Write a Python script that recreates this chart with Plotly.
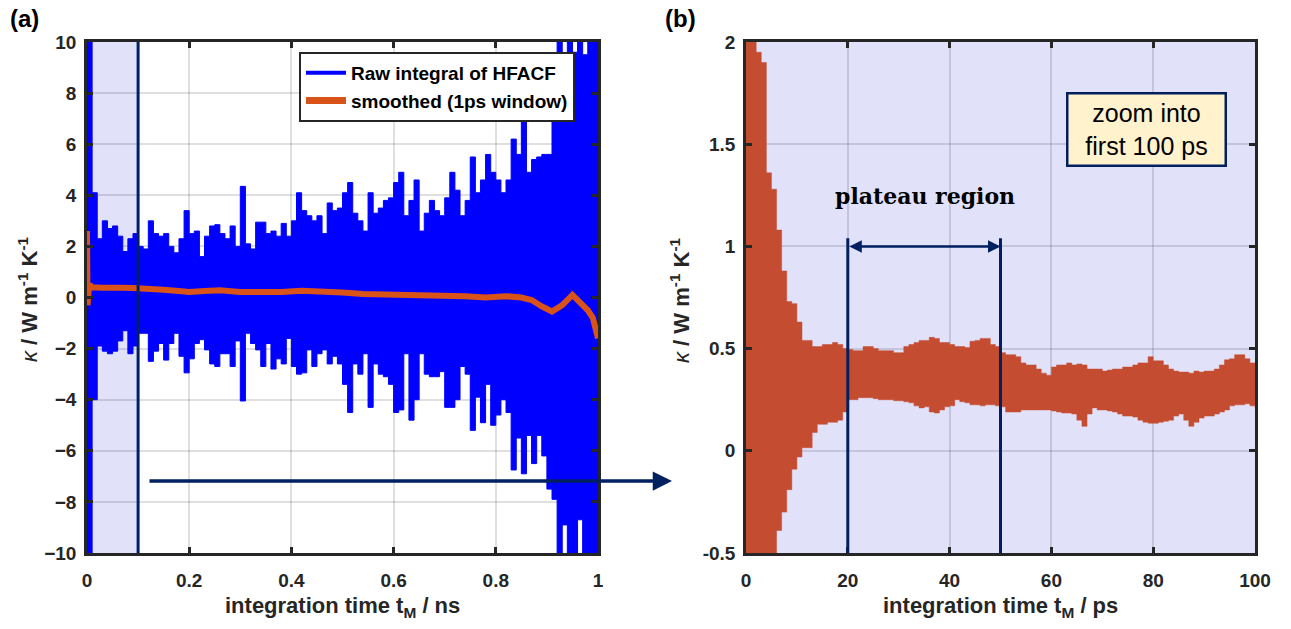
import numpy as np
import plotly.graph_objects as go

# ---------------- data: panel (a) ----------------
t_ns = [round(i * 0.01, 2) for i in range(101)]
raw_hi = [10, 4.1, 2.3, 3.0, 2.7, 2.8, 2.4, 1.8, 2.3, 2.5,
          2.0, 1.9, 3.0, 2.5, 2.4, 2.5, 2.0, 1.75, 2.3, 3.4,
          2.5, 2.6, 1.6, 2.4, 2.8, 2.85, 2.5, 2.3, 2.8, 2.0,
          4.35, 2.1, 1.9, 2.95, 2.95, 2.5, 2.6, 2.4, 2.9, 2.4,
          3.0, 4.1, 3.4, 3.2, 3.0, 3.2, 2.5, 3.7, 3.4, 3.5,
          4.1, 4.5, 3.3, 3.0, 2.6, 4.1, 3.3, 3.5, 3.8, 3.9,
          4.5, 4.9, 3.2, 3.8, 4.6, 2.6, 3.3, 3.8, 3.4, 3.2,
          3.9, 4.9, 4.2, 3.2, 3.8, 5.5, 4.1, 4.6, 5.6, 4.9,
          4.6, 4.1, 4.6, 6.2, 5.6, 7.5, 4.9, 5.4, 5.5, 5.6,
          5.6, 7.1, 10, 8.8, 10, 9.6, 10, 9.5, 10, 10, 10]
raw_lo = [-10, -4.0, -1.9, -2.1, -2.2, -2.1, -1.7, -1.3, -2.2, -1.9,
          -1.4, -1.4, -2.5, -2.1, -1.8, -2.45, -1.8, -1.4, -2.3, -2.95,
          -2.4, -1.8, -1.65, -2.05, -2.6, -2.7, -2.2, -2.2, -2.7, -1.7,
          -4.05, -1.4, -1.8, -2.05, -2.7, -1.8, -2.8, -2.4, -2.6, -1.6,
          -2.7, -3.0, -2.95, -2.05, -2.7, -2.2, -2.05, -2.6, -2.3, -2.6,
          -3.4, -4.5, -2.6, -3.0, -2.2, -4.3, -2.6, -3.0, -3.1, -3.4,
          -4.5, -4.4, -2.2, -4.8, -4.0, -2.2, -3.0, -3.1, -3.1, -2.9,
          -4.3, -4.3, -4.0, -2.7, -3.0, -5.2, -3.9, -4.9, -3.4, -5.0,
          -4.6, -4.0, -4.5, -6.75, -5.5, -6.9, -5.4, -6.5, -5.4, -6.2,
          -7.5, -7.9, -10, -8.9, -10, -10, -8.7, -10, -10, -10, -10]

smooth_t = [0, 0.001, 0.002, 0.003, 0.005, 0.01, 0.03, 0.05, 0.07, 0.09, 0.1,
            0.12, 0.15, 0.18, 0.2, 0.23, 0.26, 0.3, 0.34, 0.38, 0.42, 0.46,
            0.5, 0.54, 0.58, 0.62, 0.66, 0.7, 0.74, 0.78, 0.82, 0.85, 0.87,
            0.89, 0.91, 0.93, 0.95, 0.97, 0.98, 0.99, 1.0]
smooth_k = [2.6, -0.3, 1.2, 0.2, 0.5, 0.4, 0.38, 0.4, 0.38, 0.37, 0.35,
            0.34, 0.3, 0.25, 0.22, 0.25, 0.28, 0.22, 0.2, 0.22, 0.26, 0.24,
            0.2, 0.14, 0.12, 0.15, 0.1, 0.08, 0.05, 0.0, 0.05, 0.0, -0.1,
            -0.35, -0.55, -0.3, 0.1, -0.3, -0.5, -0.8, -1.6]

# ---------------- data: panel (b) ----------------
t_ps = list(range(101))
zoom_hi = [2.0, 2.0, 1.95, 1.9, 1.36, 1.28, 1.08, 0.88, 0.73, 0.72,
           0.63, 0.54, 0.54, 0.51, 0.51, 0.52, 0.52, 0.53, 0.52, 0.50,
           0.495, 0.49, 0.49, 0.51, 0.51, 0.50, 0.49, 0.49, 0.49, 0.48,
           0.48, 0.51, 0.52, 0.53, 0.54, 0.54, 0.555, 0.55, 0.53, 0.53,
           0.52, 0.51, 0.51, 0.505, 0.536, 0.54, 0.55, 0.55, 0.52, 0.51,
           0.48, 0.47, 0.47, 0.46, 0.43, 0.42, 0.42, 0.40, 0.38, 0.37,
           0.41, 0.42, 0.42, 0.43, 0.42, 0.425, 0.42, 0.40, 0.40, 0.40,
           0.39, 0.395, 0.40, 0.40, 0.41, 0.41, 0.42, 0.43, 0.43, 0.46,
           0.44, 0.44, 0.42, 0.40, 0.39, 0.385, 0.385, 0.38, 0.39, 0.385,
           0.39, 0.39, 0.40, 0.42, 0.445, 0.45, 0.47, 0.47, 0.45, 0.43, 0.42]
zoom_lo = [-0.5, -0.5, -0.5, -0.5, -0.5, -0.5, -0.39, -0.30, -0.19, -0.09,
           -0.03, 0.015, 0.015, 0.09, 0.13, 0.13, 0.14, 0.14, 0.15, 0.19,
           0.25, 0.25, 0.26, 0.26, 0.26, 0.255, 0.25, 0.25, 0.25, 0.245,
           0.245, 0.24, 0.235, 0.22, 0.21, 0.215, 0.19, 0.185, 0.20, 0.215,
           0.22, 0.25, 0.24, 0.235, 0.225, 0.225, 0.22, 0.225, 0.225, 0.22,
           0.215, 0.19, 0.19, 0.19, 0.20, 0.20, 0.20, 0.20, 0.20, 0.20,
           0.195, 0.19, 0.185, 0.185, 0.18, 0.15, 0.12, 0.18, 0.21, 0.20,
           0.20, 0.195, 0.19, 0.18, 0.17, 0.17, 0.165, 0.15, 0.14, 0.135,
           0.135, 0.14, 0.145, 0.15, 0.17, 0.18, 0.15, 0.12, 0.14, 0.16,
           0.17, 0.17, 0.18, 0.19, 0.20, 0.22, 0.225, 0.225, 0.23, 0.22, 0.21]

x1_ticks = [0, 0.2, 0.4, 0.6, 0.8, 1]
x1_labels = ["0", "0.2", "0.4", "0.6", "0.8", "1"]
y1_ticks = [-10, -8, -6, -4, -2, 0, 2, 4, 6, 8, 10]
x2_ticks = [0, 20, 40, 60, 80, 100]
y2_ticks = [-0.5, 0, 0.5, 1, 1.5, 2]
y2_labels = ["-0.5", "0", "0.5", "1", "1.5", "2"]

plateau = [20, 50]
window_end_ns = 0.1
x1_range = [0, 1]
y1_range = [-10, 10]
x2_range = [0, 100]
y2_range = [-0.5, 2]

# ---------------- styles ----------------
W, H = 1291, 629
NAVY = "#002060"
AX = "#262626"
LAV = "rgba(0,0,212,0.1176)"   # gives rgb(225,225,250) over white, grid shows through
BLUE = "#0000FF"
ORANGE = "#D95319"
RED = "rgb(196,76,48)"
SANS = "Liberation Sans, Arial, sans-serif"

xd1 = [87 / W, 598 / W]
xd2 = [746 / W, 1255 / W]
yd = [1 - 553 / H, 1 - 42 / H]

fig = go.Figure()

# background patches (drawn first, as filled polygons)
fig.add_trace(go.Scatter(x=[0, window_end_ns, window_end_ns, 0, 0],
                         y=[y1_range[0], y1_range[0], y1_range[1], y1_range[1], y1_range[0]],
                         mode="lines", fill="toself", fillcolor=LAV, line=dict(width=0, color=LAV),
                         showlegend=False, hoverinfo="skip", xaxis="x", yaxis="y"))
fig.add_trace(go.Scatter(x=[x2_range[0], x2_range[1], x2_range[1], x2_range[0], x2_range[0]],
                         y=[y2_range[0], y2_range[0], y2_range[1], y2_range[1], y2_range[0]],
                         mode="lines", fill="toself", fillcolor=LAV, line=dict(width=0, color=LAV),
                         showlegend=False, hoverinfo="skip", xaxis="x2", yaxis="y2"))

# panel (a) raw band
fig.add_trace(go.Scatter(x=t_ns, y=raw_lo, mode="lines", line=dict(color=BLUE, width=1, shape="hv"),
                         showlegend=False, hoverinfo="skip", xaxis="x", yaxis="y"))
fig.add_trace(go.Scatter(x=t_ns, y=raw_hi, mode="lines", line=dict(color=BLUE, width=1, shape="hv"),
                         fill="tonexty", fillcolor=BLUE, showlegend=False,
                         hoverinfo="skip", xaxis="x", yaxis="y"))
fig.add_trace(go.Scatter(x=smooth_t, y=smooth_k, mode="lines",
                         line=dict(color=ORANGE, width=6), showlegend=False,
                         xaxis="x", yaxis="y"))
# legend entries
fig.add_trace(go.Scatter(x=[None], y=[None], mode="lines", name="Raw integral of HFACF",
                         line=dict(color=BLUE, width=4), xaxis="x", yaxis="y"))
fig.add_trace(go.Scatter(x=[None], y=[None], mode="lines", name="smoothed (1ps window)",
                         line=dict(color=ORANGE, width=7), xaxis="x", yaxis="y"))

# panel (b) band
fig.add_trace(go.Scatter(x=t_ps, y=zoom_lo, mode="lines", line=dict(color=RED, width=0.5, shape="hv"),
                         showlegend=False, hoverinfo="skip", xaxis="x2", yaxis="y2"))
fig.add_trace(go.Scatter(x=t_ps, y=zoom_hi, mode="lines", line=dict(color=RED, width=0.5, shape="hv"),
                         fill="tonexty", fillcolor=RED, showlegend=False,
                         hoverinfo="skip", xaxis="x2", yaxis="y2"))

tickfont = dict(family=SANS, size=19, color=AX, weight="bold")
common = dict(showgrid=True, gridcolor="rgba(38,38,38,0.15)", gridwidth=2,
              showline=True, linecolor=AX, linewidth=2.5, mirror="ticks",
              ticks="inside", ticklen=6, tickwidth=2.5, tickcolor=AX,
              zeroline=False, tickfont=tickfont, fixedrange=True, automargin=False)

fig.update_layout(
    template="none",
    width=W, height=H, autosize=False,
    margin=dict(l=0, r=0, t=0, b=0, pad=0),
    paper_bgcolor="white", plot_bgcolor="white",
    xaxis=dict(domain=xd1, range=x1_range, tickvals=x1_ticks, ticktext=x1_labels,
               anchor="y", ticklabelstandoff=8, **common),
    yaxis=dict(domain=yd, range=y1_range, tickvals=y1_ticks, anchor="x",
               ticklabelstandoff=4, **common),
    xaxis2=dict(domain=xd2, range=x2_range, tickvals=x2_ticks,
                anchor="y2", ticklabelstandoff=8, **common),
    yaxis2=dict(domain=yd, range=y2_range, tickvals=y2_ticks, ticktext=y2_labels,
                anchor="x2", ticklabelstandoff=4, **common),
    legend=dict(x=299 / W, y=1 - 52 / H, xanchor="left", yanchor="top",
                bgcolor="white", bordercolor=AX, borderwidth=2, traceorder="normal",
                font=dict(family=SANS, size=19, color="black", weight="bold"),
                tracegroupgap=0, itemwidth=40),
    showlegend=True,
)

shapes = [
    dict(type="line", xref="x", yref="y", x0=window_end_ns, x1=window_end_ns,
         y0=y1_range[0], y1=y1_range[1], line=dict(color=NAVY, width=3), layer="above"),
]
for p in plateau:
    shapes.append(dict(type="line", xref="x2", yref="y2", x0=p, x1=p, y0=-0.5, y1=1.04,
                       line=dict(color=NAVY, width=3), layer="above"))
fig.update_layout(shapes=shapes)

title_font = dict(family=SANS, size=22, color=AX, weight="bold")
ylab = "<span style='font-weight:normal'><i>κ</i></span> / W m<sup>-1</sup> K<sup>-1</sup>"
ann = [
    dict(text="(a)", x=8 / W, y=1 - 19 / H, xref="paper", yref="paper", xanchor="left",
         yanchor="middle", showarrow=False, font=dict(family=SANS, size=24, color="black", weight="bold")),
    dict(text="(b)", x=663 / W, y=1 - 19 / H, xref="paper", yref="paper", xanchor="left",
         yanchor="middle", showarrow=False, font=dict(family=SANS, size=24, color="black", weight="bold")),
    dict(text="integration time t<sub>M</sub> / ns", x=342.5 / W, y=1 - 607 / H, xref="paper",
         yref="paper", xanchor="center", yanchor="middle", showarrow=False, font=title_font),
    dict(text="integration time t<sub>M</sub> / ps", x=1000.5 / W, y=1 - 607 / H, xref="paper",
         yref="paper", xanchor="center", yanchor="middle", showarrow=False, font=title_font),
    dict(text=ylab, x=28 / W, y=1 - 299 / H, xref="paper", yref="paper", xanchor="center",
         yanchor="middle", textangle=-90, showarrow=False, font=title_font),
    dict(text=ylab, x=680 / W, y=1 - 300 / H, xref="paper", yref="paper", xanchor="center",
         yanchor="middle", textangle=-90, showarrow=False, font=title_font),
    dict(text="", x=672 / W, y=1 - 481 / H, xref="paper", yref="paper", ax=-524, ay=0,
         showarrow=True, arrowhead=2, arrowsize=1.1, arrowwidth=3.5, arrowcolor=NAVY),
    dict(text="", x=plateau[1], y=1.0, xref="x2", yref="y2", ax=plateau[0], ay=1.0,
         axref="x2", ayref="y2", showarrow=True, arrowhead=2, startarrowhead=2,
         arrowside="end+start", arrowsize=1, startarrowsize=1, arrowwidth=2.5, arrowcolor=NAVY),
    dict(text="plateau region", x=35.2, y=1.245, xref="x2", yref="y2", showarrow=False,
         xanchor="center", yanchor="middle",
         font=dict(family="DejaVu Serif, serif", size=22, color="black", weight="bold")),
    dict(text="zoom into<br>first 100 ps", x=1146 / W, y=1 - 129.5 / H, xref="paper",
         yref="paper", xanchor="center", yanchor="middle", showarrow=False,
         font=dict(family=SANS, size=25, color="black"), bgcolor="#FFF2CC",
         bordercolor=NAVY, borderwidth=2.5, borderpad=2, width=152, height=66, align="center"),
]
fig.update_layout(annotations=ann)

fig.write_html("out.html")
